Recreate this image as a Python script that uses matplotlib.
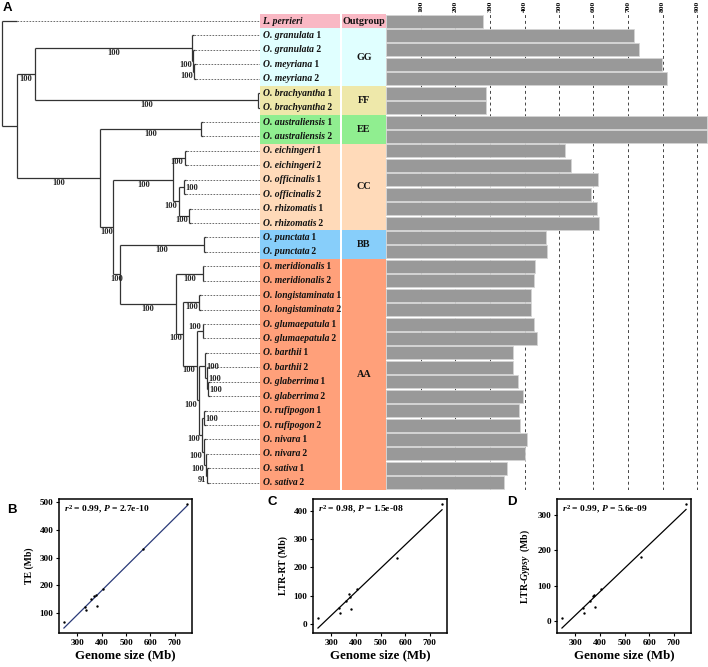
import numpy as np
import matplotlib
matplotlib.use("Agg")
import matplotlib.pyplot as plt
from matplotlib.patches import Rectangle

plt.rcParams['font.family'] = ['Liberation Serif', 'DejaVu Serif']
plt.rcParams['font.weight'] = 'bold'
plt.rcParams['mathtext.fontset'] = 'custom'
plt.rcParams['mathtext.rm'] = 'Liberation Serif:bold'
plt.rcParams['mathtext.it'] = 'Liberation Serif:italic:bold'
plt.rcParams['mathtext.bf'] = 'Liberation Serif:bold'

# ---------------- data ----------------
species = ['L. perrieri',
           'O. granulata', 'O. granulata', 'O. meyriana', 'O. meyriana',
           'O. brachyantha', 'O. brachyantha',
           'O. australiensis', 'O. australiensis',
           'O. eichingeri', 'O. eichingeri', 'O. officinalis', 'O. officinalis',
           'O. rhizomatis', 'O. rhizomatis',
           'O. punctata', 'O. punctata',
           'O. meridionalis', 'O. meridionalis', 'O. longistaminata', 'O. longistaminata',
           'O. glumaepatula', 'O. glumaepatula', 'O. barthii', 'O. barthii',
           'O. glaberrima', 'O. glaberrima', 'O. rufipogon', 'O. rufipogon',
           'O. nivara', 'O. nivara', 'O. sativa', 'O. sativa']
accession = [''] + ['1', '2'] * 16
genome_bar = [281, 717, 731, 799, 812, 287, 287, 928, 929, 516, 534, 612, 592,
              610, 616, 461, 465, 429, 428, 420, 418, 427, 436, 367, 368, 382,
              396, 383, 387, 406, 402, 350, 340]
groups = ['Outgroup', 'GG', 'FF', 'EE', 'CC', 'BB', 'AA']
group_rows = [(0, 0), (1, 4), (5, 6), (7, 8), (9, 14), (15, 16), (17, 32)]
group_colors = ['#F9B8C4', '#E0FFFF', '#EEE8AA', '#90EE90', '#FFDAB9', '#87CEFA', '#FFA07A']
bar_ticks = [100, 200, 300, 400, 500, 600, 700, 800, 900]

genome_sc = [245, 330, 336, 358, 370, 376, 381, 405, 568, 750]
te = [70, 121, 112, 151, 163, 166, 127, 188, 330, 494]
ltr_rt = [21, 58, 39, 82, 106, 95, 54, 123, 235, 425]
gypsy = [8, 36, 22, 55, 70, 74, 40, 90, 180, 331]
stats = ['$r^{2}$ = 0.99, $P$ = 2.7e-10',
         '$r^{2}$ = 0.98, $P$ = 1.5e-08',
         '$r^{2}$ = 0.99, $P$ = 5.6e-09']


# tree: node depths (branch positions) and bootstrap supports
def N(x, lab, place, *kids):
    return {'x': x, 'lab': lab, 'place': place, 'kids': kids}


def L(row, tip):
    return {'row': row, 'x': tip, 'kids': ()}


gg = N(191.7, '100', 'b', L(1, 193.5),
       N(193.3, '100', 'l', L(2, 194.5),
         N(194.3, '100', 'l', L(3, 195.5), L(4, 195.5))))
ff = N(258, '100', 'b', L(5, 259.5), L(6, 259.5))
ggff = N(35, '100', 'b', gg, ff)
ee = N(201, '100', 'b', L(7, 202.5), L(8, 202.5))
eich = N(185, '100', 'l', L(9, 186.5), L(10, 186.5))
offi = N(184.3, '100', 'r', L(11, 185.8), L(12, 185.8))
rhiz = N(189.3, '100', 'l', L(13, 190.8), L(14, 190.8))
cc = N(173.3, '100', 'b', eich, N(179, '100', 'l', offi, rhiz))
bb = N(204, '100', 'b', L(15, 205.5), L(16, 205.5))
merid = N(202.7, '100', 'b', L(17, 204), L(18, 204))
longi = N(199.3, '100', 'l', L(19, 200.8), L(20, 200.8))
glum = N(202.7, '100', 'lu', L(21, 204), L(22, 204))
africa = N(205, '100', 'r', L(23, 206.5),
           N(206.7, '100', 'r', L(24, 208),
             N(208.3, '100', 'r', L(25, 209.5), L(26, 209.5))))
rufi = N(204, '100', 'r', L(27, 205.5), L(28, 205.5))
sat = N(207.3, '91', 'l', L(31, 208.5), L(32, 208.5))
niv = N(204, '100', 'l', L(29, 205.5), N(205.7, '100', 'l', L(30, 207), sat))
asia = N(201.7, '100', 'l', rufi, niv)
aa = N(176, '100', 'b', merid,
       N(183.3, '100', 'l', longi,
         N(196.7, '100', 'l', glum,
           N(199, '100', 'l', africa, asia))))
bbaa = N(120, '100', 'b', bb, aa)
rest = N(100, '100', 'b', ee, N(113.3, '100', 'b', cc, bbaa))
tree = N(1.7, None, None, L(0, 16.7), N(17.3, None, None, ggff, rest))

# ---------------- layout ----------------
W, H = 708, 667
fig = plt.figure(figsize=(W / 100, H / 100), dpi=100)


def px_axes(x0, y0, x1, y1):
    return fig.add_axes([x0 / W, 1 - y1 / H, (x1 - x0) / W, (y1 - y0) / H])


top, row_h = 13.8, 14.43
nrow = len(species)
bottom = top + nrow * row_h
TIP_END = 260

# ---- tree ----
axt = px_axes(0, top, TIP_END, bottom)
axt.set_xlim(0, TIP_END)
axt.set_ylim(nrow - 0.5, -0.5)
axt.axis('off')
lc = '#333333'
lw = 0.9


def set_y(n):
    if not n['kids']:
        n['y'] = n['row']
    else:
        ys = [set_y(k) for k in n['kids']]
        n['y'] = (ys[0] + ys[-1]) / 2
    return n['y']


set_y(tree)


def draw(n, parent_x=None):
    if parent_x is not None:
        axt.plot([parent_x, n['x']], [n['y'], n['y']], color=lc, lw=lw,
                 solid_capstyle='butt')
    if not n['kids']:
        axt.plot([n['x'], TIP_END], [n['y'], n['y']], color='#555555', lw=0.6,
                 dashes=(2, 1.6))
        return
    ys = [k['y'] for k in n['kids']]
    axt.plot([n['x'], n['x']], [min(ys), max(ys)], color=lc, lw=lw,
             solid_capstyle='butt')
    if n['lab']:
        p = n['place']
        if p == 'b':
            xy, off, ha = ((parent_x + n['x']) / 2, n['y']), (0, -5), 'center'
        elif p == 'l':
            xy, off, ha = (n['x'], n['y']), (-1.5, -4.3), 'right'
        elif p == 'lu':
            xy, off, ha = (n['x'], n['y']), (-1.5, 4.0), 'right'
        else:
            xy, off, ha = (n['x'], n['y']), (1.5, -1.0), 'left'
        axt.annotate(n['lab'], xy=xy, xytext=off, textcoords='offset pixels',
                     ha=ha, va='center', fontsize=6.0, fontweight='bold',
                     color='#222222', annotation_clip=False)
    for k in n['kids']:
        draw(k, n['x'])


draw(tree)

# ---- labels / groups ----
axl = px_axes(TIP_END, top, 386.5, bottom)
axl.set_xlim(TIP_END, 386.5)
axl.set_ylim(nrow - 0.5, -0.5)
axl.axis('off')
for g, (r0, r1), c in zip(groups, group_rows, group_colors):
    axl.add_patch(Rectangle((TIP_END, r0 - 0.5), 339.5 - TIP_END, r1 - r0 + 1,
                            facecolor=c, edgecolor='none'))
    axl.add_patch(Rectangle((342, r0 - 0.5), 385.5 - 342, r1 - r0 + 1,
                            facecolor=c, edgecolor='none'))
    axl.text(363.8, (r0 + r1) / 2, g, ha='center', va='center', fontsize=7.3,
             fontweight='bold', color='#111111')
for i, (sp, acc) in enumerate(zip(species, accession)):
    t = axl.text(262.5, i, sp, ha='left', va='center', fontsize=6.9,
                 fontstyle='italic', fontweight='bold', color='#111111')
    if acc:
        axl.annotate(' ' + acc, xy=(1, 0), xycoords=t, ha='left', va='bottom',
                     fontsize=6.9, fontweight='bold', color='#111111')

# ---- bars ----
axb = px_axes(386.5, top, W, bottom)
axb.barh(np.arange(nrow), genome_bar, height=0.9, color='#999999',
         edgecolor='#d4d4d4', linewidth=0.6, zorder=2)
axb.set_ylim(nrow - 0.5, -0.5)
axb.set_xlim(0, (W - 386.5) / 0.345)
axb.xaxis.tick_top()
axb.set_xticks(bar_ticks)
axb.set_xticklabels([str(v) for v in bar_ticks], rotation=90, fontsize=5.4,
                    fontweight='bold')
axb.tick_params(axis='x', length=0, pad=1)
axb.set_yticks([])
for s in axb.spines.values():
    s.set_visible(False)
for v in bar_ticks:
    axb.axvline(v, color='#444444', lw=0.7, dashes=(3, 3), zorder=1)

# ---------------- scatter panels ----------------
panels = [((59, 499, 192, 633), te, 'TE (Mb)', [100, 200, 300, 400, 500], '#2A3A78', stats[0]),
          ((313, 499, 447, 633), ltr_rt, 'LTR-RT (Mb)', [0, 100, 200, 300, 400], 'black', stats[1]),
          ((557, 499, 691, 633), gypsy, 'LTR-$Gypsy$  (Mb)', [0, 100, 200, 300], 'black', stats[2])]
for (box, yv, ylab, yt, lcol, st) in panels:
    ax = px_axes(*box)
    x = np.array(genome_sc, float)
    y = np.array(yv, float)
    k, b = np.polyfit(x, y, 1)
    xx = np.array([x.min(), x.max()])
    ax.plot(xx, k * xx + b, color=lcol, lw=0.9)
    ax.scatter(x, y, s=3, color='black', zorder=3, linewidths=0)
    ax.margins(0.04)
    ax.set_xticks([300, 400, 500, 600, 700])
    ax.set_yticks(yt)
    ax.tick_params(labelsize=6.6, length=2.5, width=0.8, pad=1.5)
    for lab in ax.get_xticklabels() + ax.get_yticklabels():
        lab.set_fontweight('bold')
    for s in ax.spines.values():
        s.set_linewidth(1.1)
    ax.set_xlabel('Genome size (Mb)', fontsize=9.3, fontweight='bold', labelpad=2)
    ax.set_ylabel(ylab, fontsize=7, fontweight='bold', labelpad=4)
    ax.text(0.04, 0.92, st, transform=ax.transAxes, fontsize=6.8,
            fontweight='bold', va='center', ha='left')

for letter, (px, py) in zip('ABCD', [(7, 8), (12, 510), (272, 502), (512, 502)]):
    fig.text(px / W, 1 - py / H, letter, fontsize=9.5, fontweight='bold',
             family='Liberation Sans', ha='center', va='center')

fig.savefig('out.png', dpi=100)
